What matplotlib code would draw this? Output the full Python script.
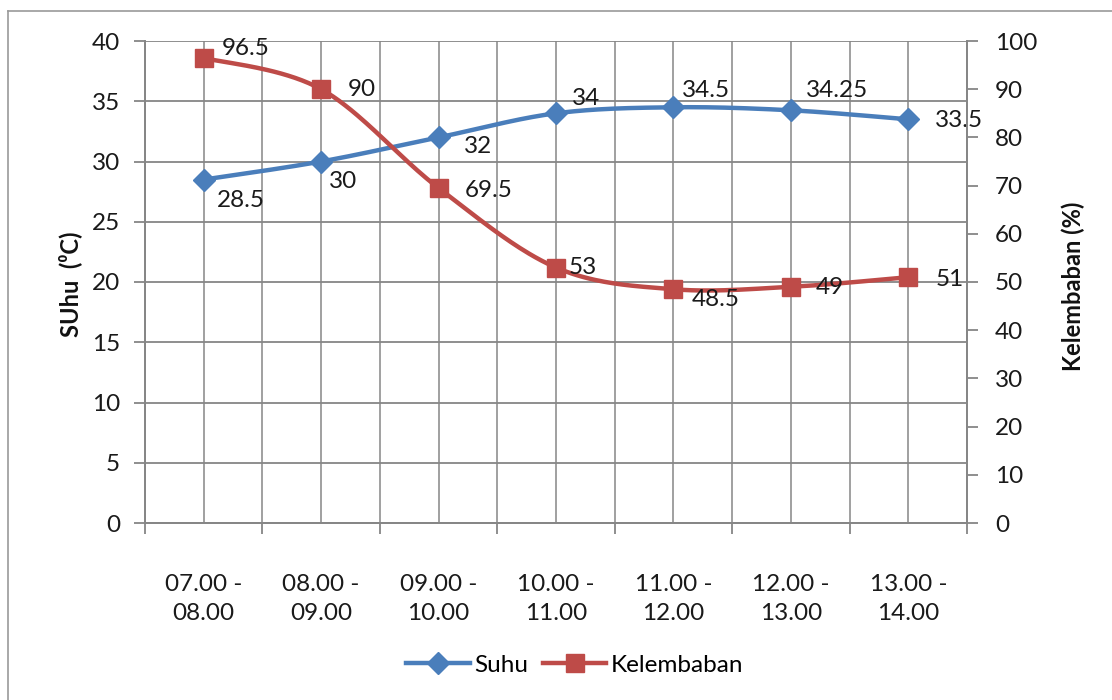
import numpy as np
import matplotlib
matplotlib.use("Agg")
import matplotlib.pyplot as plt
from matplotlib.lines import Line2D

plt.rcParams['font.family'] = ['Lato', 'DejaVu Sans']

categories = ["07.00 -\n08.00", "08.00 -\n09.00", "09.00 -\n10.00", "10.00 -\n11.00",
              "11.00 -\n12.00", "12.00 -\n13.00", "13.00 -\n14.00"]
suhu = [28.5, 30, 32, 34, 34.5, 34.25, 33.5]
kelembaban = [96.5, 90, 69.5, 53, 48.5, 49, 51]
suhu_labels = ["28.5", "30", "32", "34", "34.5", "34.25", "33.5"]
kelem_labels = ["96.5", "90", "69.5", "53", "48.5", "49", "51"]

# label offsets in pixels (left edge of text relative to marker)
suhu_off = [(13, -21), (8, -20), (25, -9), (16, 15), (9, 17), (15, 20), (27, -1)]
kelem_off = [(18, 9), (27, 0), (26, -2), (13, 0), (18, -10), (25, -1), (27, -2)]

BLUE = "#4A7EBB"
RED = "#BE4B48"
GRID = "#868686"
FS = 17.5


def smooth(x, y, n=40):
    x = np.asarray(x, float)
    y = np.asarray(y, float)
    px = np.concatenate([[x[0]], x, [x[-1]]])
    py = np.concatenate([[y[0]], y, [y[-1]]])
    xs, ys = [], []
    for i in range(len(x) - 1):
        p0 = np.array([px[i + 1], py[i + 1]])
        p3 = np.array([px[i + 2], py[i + 2]])
        pm = np.array([px[i], py[i]])
        pp = np.array([px[i + 3], py[i + 3]])
        c1 = p0 + (p3 - pm) / 6.0
        c2 = p3 - (pp - p0) / 6.0
        t = np.linspace(0, 1, n)[:, None]
        b = ((1 - t) ** 3) * p0 + 3 * ((1 - t) ** 2) * t * c1 + 3 * (1 - t) * t ** 2 * c2 + t ** 3 * p3
        xs.append(b[:, 0])
        ys.append(b[:, 1])
    return np.concatenate(xs), np.concatenate(ys)


fig = plt.figure(figsize=(11.12, 7.0), dpi=100)
ax = fig.add_axes([145 / 1112, 1 - 523 / 700, (967 - 145) / 1112, (523 - 41) / 700])
ax2 = ax.twinx()

x = np.arange(len(categories))
ax.set_xlim(-0.5, len(categories) - 0.5)
ax.set_ylim(0, 40)
ax2.set_ylim(0, 100)
ax.set_yticks(np.arange(0, 41, 5))
ax2.set_yticks(np.arange(0, 101, 10))

# x ticks: boundaries major (ticks), centers minor (labels)
ax.set_xticks(np.arange(-0.5, len(categories), 1.0))
ax.set_xticklabels([])
ax.set_xticks(x, minor=True)
ax.set_xticklabels(categories, minor=True, fontsize=FS, color="#1a1a1a", linespacing=1.45)
ax.tick_params(axis='x', which='major', length=8, width=1.3, color=GRID, direction='out')
ax.tick_params(axis='x', which='minor', length=0, pad=37)
ax.tick_params(axis='y', length=8, width=1.3, color=GRID, labelsize=FS, labelcolor="#1a1a1a", pad=10)
ax2.tick_params(axis='y', length=8, width=1.3, color=GRID, labelsize=FS, labelcolor="#1a1a1a", pad=12)

ax.grid(True, which='both', axis='x', color=GRID, lw=1.1)
ax.grid(True, which='major', axis='y', color=GRID, lw=1.3)
ax.set_axisbelow(True)
for a in (ax, ax2):
    for s in a.spines.values():
        s.set_color(GRID)
        s.set_linewidth(1.3)
ax.spines['top'].set_visible(False)
ax2.spines['top'].set_visible(False)

sx, sy = smooth(x, suhu)
ax.plot(sx, sy, color=BLUE, lw=3.2, solid_capstyle='round', zorder=3)
ax.plot(x, suhu, ls='none', marker='D', ms=11, color=BLUE, mec=BLUE, zorder=4)
kx, ky = smooth(x, kelembaban)
ax2.plot(kx, ky, color=RED, lw=3.2, solid_capstyle='round', zorder=3)
ax2.plot(x, kelembaban, ls='none', marker='s', ms=13, color=RED, mec=RED, zorder=4)

for xi, yi, lab, off in zip(x, suhu, suhu_labels, suhu_off):
    ax.annotate(lab, (xi, yi), xytext=off, textcoords='offset pixels',
                ha='left', va='center', fontsize=FS, color="#1a1a1a", zorder=6)
for xi, yi, lab, off in zip(x, kelembaban, kelem_labels, kelem_off):
    ax2.annotate(lab, (xi, yi), xytext=off, textcoords='offset pixels',
                 ha='left', va='center', fontsize=FS, color="#1a1a1a", zorder=6)

fig.text(70 / 1112, 1 - 284 / 700, "SUhu  (⁰C)", rotation=90, ha='center', va='center',
         fontsize=17, fontweight='bold', color="#111111")
fig.text(1073 / 1112, 1 - 286 / 700, "Kelembaban (%)", rotation=90, ha='center', va='center',
         fontsize=17, fontweight='bold', color="#111111")

handles = [Line2D([], [], color=BLUE, lw=3.2, marker='D', ms=11),
           Line2D([], [], color=RED, lw=3.2, marker='s', ms=13)]
fig.legend(handles, ["Suhu", "Kelembaban"], loc='center', bbox_to_anchor=(575 / 1112, 1 - 665 / 700),
           ncol=2, frameon=False, fontsize=FS, handlelength=2.6, handletextpad=0.2, columnspacing=0.6)

# chart area border
fig.add_artist(Line2D([8 / 1112, 8 / 1112], [0, 1 - 11 / 700], transform=fig.transFigure, color="#9a9a9a", lw=1.2))
fig.add_artist(Line2D([8 / 1112, 1], [1 - 11 / 700, 1 - 11 / 700], transform=fig.transFigure, color="#9a9a9a", lw=1.2))

fig.savefig("out.png", dpi=100)
